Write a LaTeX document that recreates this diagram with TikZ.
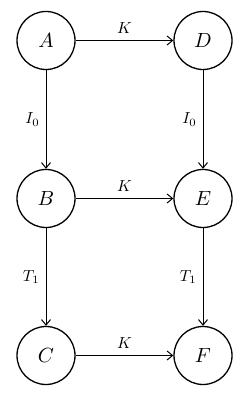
\documentclass[tikz,border=0pt]{standalone}
\usepackage{graphicx}
\usetikzlibrary{arrows.meta}
\newcommand{\nodemath}[1]{\scalebox{2.05}{$#1$}}
\newcommand{\labmath}[1]{\scalebox{1.6}{$#1$}}
\begin{document}
\begin{tikzpicture}[x=1pt,y=1pt,
  statenode/.style={circle,draw,line width=1.3pt,minimum size=58pt,inner sep=0pt},
  edge/.style={line width=1pt,-{Straight Barb[length=5.5pt,width=9pt,line width=1pt]}},
  lab/.style={}]
\useasboundingbox (0,0) rectangle (247,401);
\node[statenode] (A) at (46,360.5) {\nodemath{A}};
\node[statenode] (D) at (203,360.5) {\nodemath{D}};
\node[statenode] (B) at (46,202.5) {\nodemath{B}};
\node[statenode] (E) at (203,202.5) {\nodemath{E}};
\node[statenode] (C) at (46,45.5) {\nodemath{C}};
\node[statenode] (F) at (203,45.5) {\nodemath{F}};
\draw[edge] (A) -- node[lab,above,inner sep=6.5pt] {\labmath{K}} (D);
\draw[edge] (B) -- node[lab,above,inner sep=6.5pt] {\labmath{K}} (E);
\draw[edge] (C) -- node[lab,above,inner sep=6.5pt] {\labmath{K}} (F);
\draw[edge] (A) -- node[lab,left,inner sep=6pt] {\labmath{I_0}} (B);
\draw[edge] (D) -- node[lab,left,inner sep=6pt] {\labmath{I_0}} (E);
\draw[edge] (B) -- node[lab,left,inner sep=6pt] {\labmath{T_1}} (C);
\draw[edge] (E) -- node[lab,left,inner sep=6pt] {\labmath{T_1}} (F);
\end{tikzpicture}
\end{document}
